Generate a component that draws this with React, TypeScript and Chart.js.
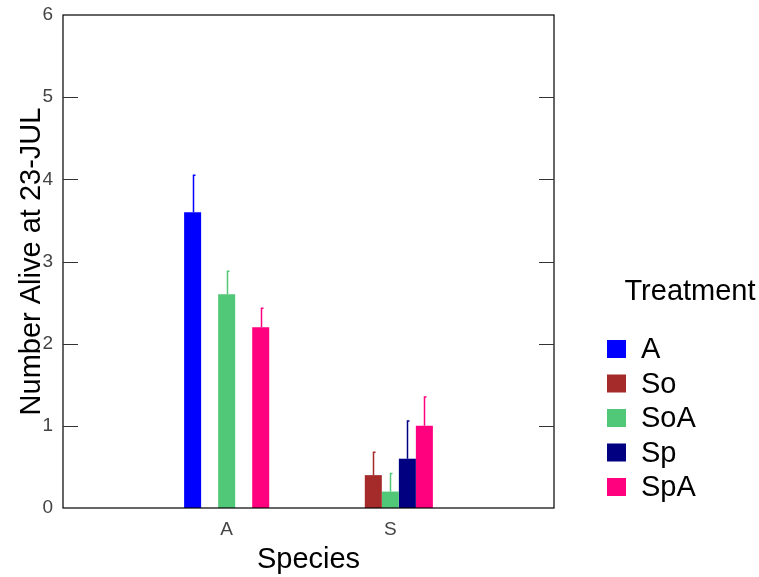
import React, { useEffect, useRef } from "react";
import { Chart, registerables } from "chart.js";

Chart.register(...registerables);

const categories = ["", "A", "S", ""];
const yTickValues = [0, 1, 2, 3, 4, 5, 6];

const seriesNames = ["A", "So", "SoA", "Sp", "SpA"];
const seriesColors = ["#0000FF", "#A52A2A", "#50C878", "#000080", "#FF007F"];

const valuesA = [null, 3.6, null, null];
const valuesSo = [null, null, 0.4, null];
const valuesSoA = [null, 2.6, 0.2, null];
const valuesSp = [null, null, 0.6, null];
const valuesSpA = [null, 2.2, 1.0, null];

const errA = [null, 0.45, null, null];
const errSo = [null, null, 0.28, null];
const errSoA = [null, 0.28, 0.22, null];
const errSp = [null, null, 0.46, null];
const errSpA = [null, 0.23, 0.35, null];

const seriesValues = [valuesA, valuesSo, valuesSoA, valuesSp, valuesSpA];
const seriesErrors = [errA, errSo, errSoA, errSp, errSpA];

const FONT = "'Liberation Sans', Arial, sans-serif";

const decorPlugin = {
  id: "decor",
  afterDatasetsDraw(chart: any) {
    const ctx = chart.ctx;
    const ys = chart.scales.y;
    const area = chart.chartArea;
    ctx.save();
    // error bars
    chart.data.datasets.forEach((ds: any, di: number) => {
      const meta = chart.getDatasetMeta(di);
      const errs = seriesErrors[di];
      meta.data.forEach((el: any, i: number) => {
        const v = ds.data[i];
        const e = errs[i];
        if (v == null || e == null) return;
        const x = Math.round(el.x) + 0.5;
        const yTop = ys.getPixelForValue(v + e);
        ctx.strokeStyle = ds.backgroundColor;
        ctx.lineWidth = 1.5;
        ctx.beginPath();
        ctx.moveTo(x, el.y);
        ctx.lineTo(x, yTop);
        ctx.lineTo(x + 2, yTop);
        ctx.stroke();
      });
    });
    // frame
    ctx.strokeStyle = "#000";
    ctx.lineWidth = 1.2;
    ctx.strokeRect(area.left, area.top, area.right - area.left, area.bottom - area.top);
    // inward ticks on both sides
    ctx.strokeStyle = "#333";
    ctx.lineWidth = 1;
    yTickValues.forEach((t) => {
      if (t === 0 || t === 6) return;
      const y = Math.round(ys.getPixelForValue(t)) + 0.5;
      ctx.beginPath();
      ctx.moveTo(area.left, y);
      ctx.lineTo(area.left + 15, y);
      ctx.moveTo(area.right - 15, y);
      ctx.lineTo(area.right, y);
      ctx.stroke();
    });
    // legend
    ctx.fillStyle = "#000";
    ctx.font = `29px ${FONT}`;
    ctx.textAlign = "center";
    ctx.textBaseline = "middle";
    ctx.fillText("Treatment", 690, 292);
    ctx.textAlign = "left";
    chart.data.datasets.forEach((ds: any, di: number) => {
      const yc = 349 + di * 34.5;
      ctx.fillStyle = ds.backgroundColor;
      ctx.fillRect(607, yc - 9, 19, 18);
      ctx.fillStyle = "#000";
      ctx.fillText(ds.label, 641, yc + 1);
    });
    ctx.restore();
  },
};

export default function App() {
  const ref = useRef<HTMLCanvasElement>(null);
  useEffect(() => {
    if (!ref.current) return;
    const chart = new Chart(ref.current, {
      type: "bar",
      data: {
        labels: categories,
        datasets: seriesNames.map((name, i) => ({
          label: name,
          data: seriesValues[i],
          backgroundColor: seriesColors[i],
          borderWidth: 0,
          categoryPercentage: 0.52,
          barPercentage: 1,
        })),
      },
      options: {
        animation: false,
        responsive: false,
        maintainAspectRatio: false,
        layout: { padding: { left: 0, right: 205, top: 15, bottom: 0 } },
        plugins: {
          legend: { display: false },
          tooltip: { enabled: false },
        },
        scales: {
          x: {
            offset: false,
            grid: { display: false, drawTicks: false },
            border: { display: false },
            ticks: {
              padding: 10,
              color: "#444",
              font: { family: FONT, size: 19 },
              autoSkip: false,
              maxRotation: 0,
            },
            title: {
              display: true,
              text: "Species",
              color: "#000",
              font: { family: FONT, size: 29 },
              padding: { top: 0, bottom: 0 },
            },
            afterFit(scale: any) {
              scale.height = 69;
              scale.paddingLeft = 0;
              scale.paddingRight = 0;
            },
          },
          y: {
            min: 0,
            max: 6,
            grid: { display: false, drawTicks: false },
            border: { display: false },
            ticks: {
              stepSize: 1,
              padding: 10,
              color: "#444",
              font: { family: FONT, size: 19 },
            },
            title: {
              display: true,
              text: "Number Alive at 23-JUL",
              color: "#000",
              font: { family: FONT, size: 29 },
              padding: { top: 15, bottom: 0 },
            },
            afterFit(scale: any) {
              scale.width = 63;
              scale.paddingTop = 0;
              scale.paddingBottom = 0;
            },
          },
        },
      },
      plugins: [decorPlugin],
    });
    return () => chart.destroy();
  }, []);
  return (
    <div style={{ position: "absolute", left: 0, top: 0, width: 759, height: 577 }}>
      <canvas ref={ref} width={759} height={577} style={{ width: 759, height: 577 }} />
    </div>
  );
}
